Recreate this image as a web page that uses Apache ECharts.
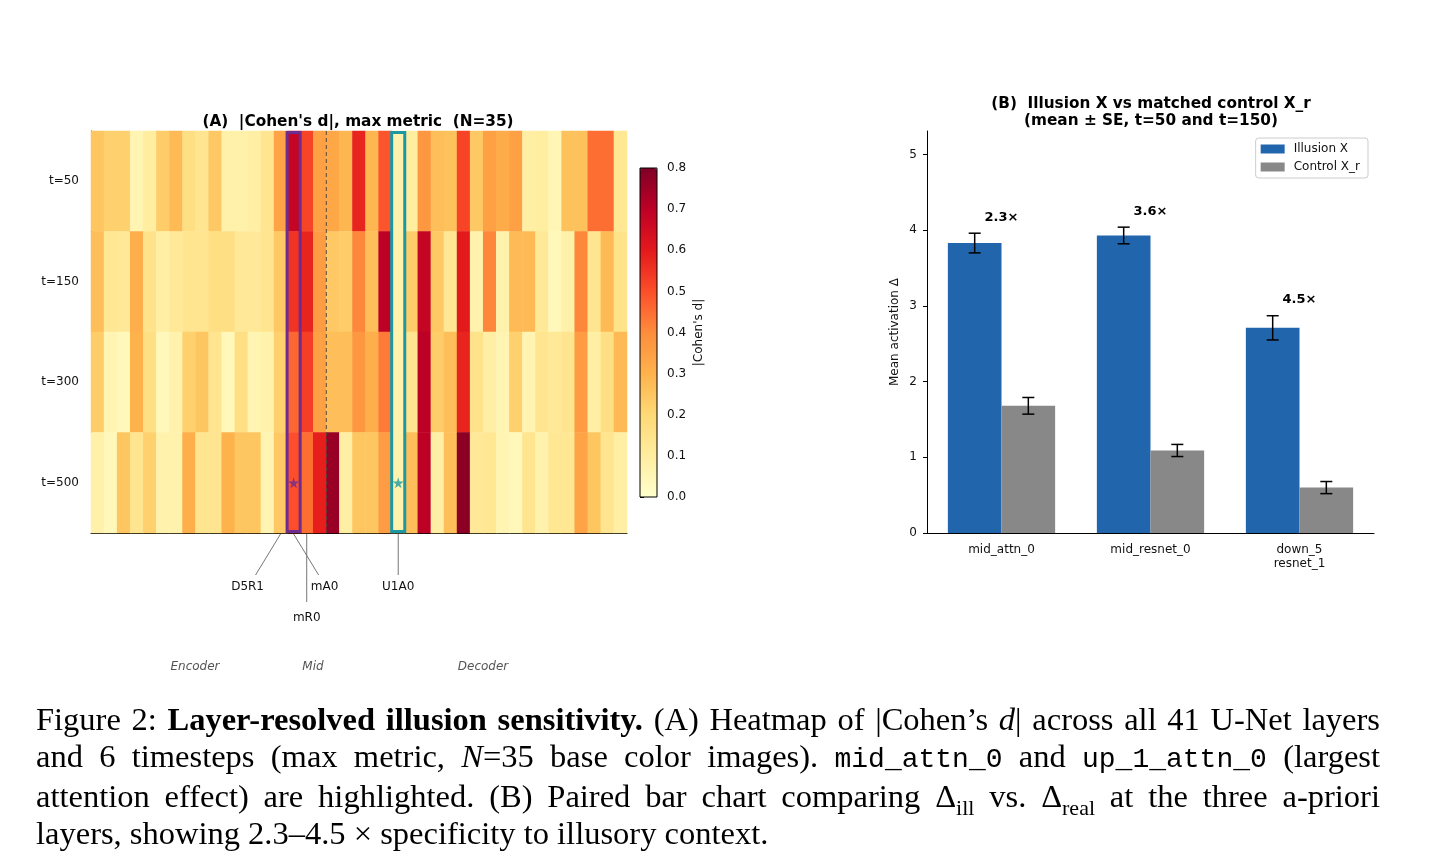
<!DOCTYPE html>
<html>
<head>
<meta charset="utf-8">
<script src="https://cdn.jsdelivr.net/npm/echarts@6/dist/echarts.min.js"></script>
<style>
  body { margin: 0; background: #fff; }
  #chart { position: absolute; left: 0; top: 0; width: 1430px; height: 864px; }
  #caption {
    position: absolute; left: 36px; top: 701px; width: 1344px;
    font-family: "Liberation Serif", "DejaVu Serif", serif;
    font-size: 32.5px; line-height: 37px; color: #000;
  }
  #caption .ln { text-align: justify; text-align-last: justify; white-space: nowrap; }
  #caption .last { text-align: left; white-space: nowrap; }
  #caption code { font-family: "Liberation Mono", "DejaVu Sans Mono", monospace; font-size: 28px; }
  #caption sub { font-size: 22px; line-height: 0; }
</style>
</head>
<body>
<div id="chart"></div>
<div id="caption">
  <div class="ln">Figure 2: <b>Layer-resolved illusion sensitivity.</b> (A) Heatmap of |Cohen’s <i>d</i>| across all 41 U-Net layers</div>
  <div class="ln">and 6 timesteps (max metric, <i>N</i>=35 base color images). <code>mid_attn_0</code> and <code>up_1_attn_0</code> (largest</div>
  <div class="ln">attention effect) are highlighted. (B) Paired bar chart comparing Δ<sub>ill</sub> vs. Δ<sub>real</sub> at the three a-priori</div>
  <div class="last">layers, showing 2.3–4.5 × specificity to illusory context.</div>
</div>
<script>
// ---- data: panel A (|Cohen's d| per layer and timestep) ----
const layerIdx = Array.from({ length: 41 }, (_, i) => String(i));
const timesteps = ['t=50', 't=150', 't=300', 't=500'];

const dT50 = [0.25, 0.22, 0.22, 0.06, 0.10, 0.23, 0.28, 0.17, 0.14, 0.24,
              0.08, 0.08, 0.09, 0.14, 0.34, 0.68, 0.52, 0.35, 0.33, 0.29,
              0.58, 0.29, 0.49, 0.07, 0.10, 0.37, 0.27, 0.26, 0.52, 0.24,
              0.35, 0.32, 0.35, 0.09, 0.10, 0.05, 0.26, 0.26, 0.45, 0.45, 0.13];
const dT150 = [0.27, 0.13, 0.12, 0.31, 0.15, 0.09, 0.12, 0.14, 0.14, 0.17,
               0.17, 0.12, 0.12, 0.14, 0.24, 0.55, 0.58, 0.36, 0.24, 0.23,
               0.41, 0.27, 0.70, 0.07, 0.23, 0.68, 0.24, 0.13, 0.60, 0.07,
               0.41, 0.07, 0.28, 0.28, 0.12, 0.04, 0.08, 0.41, 0.14, 0.28, 0.15];
const dT300 = [0.23, 0.06, 0.04, 0.30, 0.17, 0.04, 0.07, 0.22, 0.25, 0.14,
               0.04, 0.17, 0.06, 0.07, 0.22, 0.46, 0.53, 0.35, 0.27, 0.27,
               0.37, 0.31, 0.43, 0.07, 0.14, 0.70, 0.23, 0.27, 0.58, 0.15,
               0.09, 0.06, 0.22, 0.06, 0.14, 0.12, 0.14, 0.36, 0.09, 0.17, 0.28];
const dT500 = [0.08, 0.04, 0.25, 0.14, 0.22, 0.07, 0.07, 0.31, 0.14, 0.14,
               0.30, 0.25, 0.25, 0.06, 0.24, 0.50, 0.45, 0.59, 0.76, 0.09,
               0.25, 0.25, 0.36, 0.07, 0.27, 0.70, 0.09, 0.27, 0.78, 0.12,
               0.13, 0.06, 0.04, 0.14, 0.07, 0.13, 0.13, 0.34, 0.25, 0.14, 0.09];
const dRows = [dT50, dT150, dT300, dT500];

const highlightCols = [15, 23];           // mid_attn_0, up_1_attn_0
const starCols = [15, 23];
const starRow = 't=500';
const dividerCols = [18];                 // mid | decoder boundary
const annotCols = [14, 15, 16, 23];
const annotLabels = ['D5R1', 'mA0', 'mR0', 'U1A0'];
const cbarTicks = [0, 0.1, 0.2, 0.3, 0.4, 0.5, 0.6, 0.7, 0.8];

// ---- data: panel B ----
const barLayers = ['mid_attn_0', 'mid_resnet_0', 'down_5\nresnet_1'];
const illusionMean = [3.83, 3.93, 2.71];
const illusionSE = [0.13, 0.11, 0.16];
const controlMean = [1.68, 1.09, 0.60];
const controlSE = [0.11, 0.08, 0.08];
const ratioLabels = ['2.3×', '3.6×', '4.5×'];
const barTicks = [0, 1, 2, 3, 4, 5];

// ---- styles ----
const FONT = '"DejaVu Sans", sans-serif';
const YLORRD = ['#ffffcc', '#ffeda0', '#fed976', '#feb24c', '#fd8d3c',
                '#fc4e2a', '#e31a1c', '#bd0026', '#800026'];
const HIGHLIGHT_COLORS = ['#6e2c91', '#1c98a2'];
const BLUE = '#2166ac';
const GRAY = '#888888';
// leader line end / label centre, relative to column centre at the heatmap bottom
const ANNOT_OFFSETS = {
  D5R1: { line: [-25, 42], text: [-33, 54] },
  mA0:  { line: [25, 42],  text: [31, 54] },
  mR0:  { line: [0, 69],   text: [0, 85] },
  U1A0: { line: [0, 42],   text: [0, 54] }
};

const heatData = [];
dRows.forEach((row, r) => row.forEach((v, c) => heatData.push([c, r, v])));

const errData = [];
barLayers.forEach((_, i) => {
  errData.push([i, illusionMean[i], illusionSE[i], -1]);
  errData.push([i, controlMean[i], controlSE[i], 1]);
});
const ratioData = barLayers.map((_, i) => [i, illusionMean[i] + illusionSE[i], ratioLabels[i]]);

function renderHighlight(params, api) {
  const c = api.coord([api.value(0), 0]);
  const bw = api.size([1, 0])[0];
  const cs = params.coordSys;
  return {
    type: 'rect',
    shape: { x: c[0] - bw / 2, y: cs.y + 1.5, width: bw, height: cs.height - 3 },
    style: { fill: 'none', stroke: HIGHLIGHT_COLORS[params.dataIndex], lineWidth: 3 }
  };
}

function renderDivider(params, api) {
  const c = api.coord([api.value(0), 0]);
  const bw = api.size([1, 0])[0];
  const cs = params.coordSys;
  const x = c[0] - bw / 2;
  return {
    type: 'line',
    shape: { x1: x, y1: cs.y, x2: x, y2: cs.y + cs.height },
    style: { stroke: '#5a4a3a', lineWidth: 1, lineDash: [4, 3] }
  };
}

function renderAnnot(params, api) {
  const c = api.coord([api.value(0), 0]);
  const cs = params.coordSys;
  const label = annotLabels[params.dataIndex];
  const off = ANNOT_OFFSETS[label];
  const y0 = cs.y + cs.height;
  return {
    type: 'group',
    children: [
      {
        type: 'line',
        shape: { x1: c[0], y1: y0 + 1, x2: c[0] + off.line[0], y2: y0 + off.line[1] },
        style: { stroke: '#777', lineWidth: 1 }
      },
      {
        type: 'text',
        x: c[0] + off.text[0], y: y0 + off.text[1],
        style: { text: label, fill: '#111', font: '12px ' + FONT, align: 'center', verticalAlign: 'middle' }
      }
    ]
  };
}

function renderErr(params, api) {
  const cat = api.value(0), mean = api.value(1), se = api.value(2), side = api.value(3);
  const bw = api.size([1, 0])[0];
  const x = api.coord([cat, 0])[0] + side * bw * 0.18;
  const top = api.coord([cat, mean + se])[1];
  const bot = api.coord([cat, mean - se])[1];
  const st = { stroke: '#000', lineWidth: 1.5 };
  return {
    type: 'group',
    children: [
      { type: 'line', shape: { x1: x, y1: top, x2: x, y2: bot }, style: st },
      { type: 'line', shape: { x1: x - 6, y1: top, x2: x + 6, y2: top }, style: st },
      { type: 'line', shape: { x1: x - 6, y1: bot, x2: x + 6, y2: bot }, style: st }
    ]
  };
}

function renderRatio(params, api) {
  const p = api.coord([api.value(0), api.value(1)]);
  return {
    type: 'text',
    x: p[0], y: p[1] - 16,
    style: { text: ratioLabels[params.dataIndex], fill: '#000', font: 'bold 13px ' + FONT, align: 'center', verticalAlign: 'middle' }
  };
}

const STAR = 'path://M50,0 L61,35 L98,35 L68,57 L79,91 L50,70 L21,91 L32,57 L2,35 L39,35 Z';

const chart = echarts.init(document.getElementById('chart'));
chart.setOption({
  animation: false,
  backgroundColor: '#fff',
  textStyle: { fontFamily: FONT },
  title: [
    {
      text: "(A)  |Cohen's d|, max metric  (N=35)",
      left: 358, top: 115, textAlign: 'center', padding: 0,
      textStyle: { fontSize: 15.3, fontWeight: 'bold', color: '#000', fontFamily: FONT }
    },
    {
      text: '(B)  Illusion X vs matched control X_r\n(mean ± SE, t=50 and t=150)',
      left: 1151, top: 96, textAlign: 'center', padding: 0,
      textStyle: { fontSize: 15.3, fontWeight: 'bold', color: '#000', lineHeight: 17, fontFamily: FONT }
    }
  ],
  legend: {
    data: ['Illusion X', 'Control X_r'],
    orient: 'vertical',
    right: 62, top: 138,
    itemWidth: 24, itemHeight: 9, itemGap: 6,
    icon: 'rect',
    padding: [5, 8, 5, 5],
    borderColor: '#ccc', borderWidth: 1, borderRadius: 3,
    textStyle: { fontSize: 12, color: '#111', fontFamily: FONT, padding: [0, 0, 0, 4] }
  },
  visualMap: {
    type: 'continuous',
    seriesIndex: 0,
    min: 0, max: 0.8,
    left: 640, top: 168,
    itemWidth: 17, itemHeight: 329,
    padding: 0,
    calculable: false,
    text: null,
    hoverLink: false,
    inRange: { color: YLORRD }
  },
  grid: [
    { left: 91, top: 131, width: 536, height: 402 },
    { left: 927, top: 131, width: 447, height: 402 },
    { left: 640, top: 168, width: 17, height: 329, show: true, borderColor: '#000', borderWidth: 1, backgroundColor: 'transparent', z: 10 }
  ],
  xAxis: [
    {
      gridIndex: 0, type: 'category', data: layerIdx,
      axisLine: { lineStyle: { color: '#000', width: 1 } },
      axisTick: { show: false }, axisLabel: { show: false }, splitLine: { show: false }
    },
    {
      gridIndex: 1, type: 'category', data: barLayers,
      axisLine: { lineStyle: { color: '#000', width: 1 } },
      axisTick: { alignWithLabel: true, length: 4, lineStyle: { color: '#000' } },
      axisLabel: { fontSize: 12, color: '#111', margin: 10, lineHeight: 14 }
    },
    { gridIndex: 2, type: 'value', show: false, min: 0, max: 1 }
  ],
  yAxis: [
    {
      gridIndex: 0, type: 'category', data: timesteps, inverse: true,
      axisLine: { lineStyle: { color: '#000', width: 1 } },
      axisTick: { alignWithLabel: true, length: 5, lineStyle: { color: '#000' } },
      axisLabel: { fontSize: 12, color: '#111', margin: 12 },
      splitLine: { show: false }
    },
    {
      gridIndex: 1, type: 'value', min: 0, max: 5.31,
      name: 'Mean activation Δ', nameLocation: 'middle', nameGap: 26, nameRotate: 90,
      nameTextStyle: { fontSize: 12, color: '#111' },
      axisLine: { show: true, lineStyle: { color: '#000', width: 1 } },
      axisTick: { show: true, length: 4, customValues: barTicks, lineStyle: { color: '#000' } },
      axisLabel: { fontSize: 12, color: '#111', margin: 10, customValues: barTicks },
      splitLine: { show: false }
    },
    {
      gridIndex: 2, type: 'value', position: 'right', min: 0, max: 0.8,
      name: "|Cohen's d|", nameLocation: 'middle', nameGap: 36, nameRotate: 90,
      nameTextStyle: { fontSize: 12, color: '#111' },
      axisLine: { show: false },
      axisTick: { show: true, length: 4, customValues: cbarTicks, lineStyle: { color: '#000' } },
      axisLabel: { fontSize: 12, color: '#111', margin: 10, customValues: cbarTicks, formatter: v => v.toFixed(1) },
      splitLine: { show: false }
    }
  ],
  series: [
    {
      type: 'heatmap', xAxisIndex: 0, yAxisIndex: 0,
      data: heatData, progressive: 0,
      itemStyle: { borderWidth: 0 }, emphasis: { disabled: true }
    },
    {
      type: 'custom', xAxisIndex: 0, yAxisIndex: 0, z: 5,
      data: highlightCols.map(c => [c]), renderItem: renderHighlight
    },
    {
      type: 'custom', xAxisIndex: 0, yAxisIndex: 0, z: 4,
      data: dividerCols.map(c => [c]), renderItem: renderDivider
    },
    {
      type: 'scatter', xAxisIndex: 0, yAxisIndex: 0, z: 6,
      symbol: STAR, symbolSize: 11,
      data: starCols.map((c, i) => ({ value: [c, timesteps.indexOf(starRow)], itemStyle: { color: HIGHLIGHT_COLORS[i] } }))
    },
    {
      type: 'custom', xAxisIndex: 0, yAxisIndex: 0, clip: false,
      data: annotCols.map(c => [c]), renderItem: renderAnnot
    },
    {
      name: 'Illusion X', type: 'bar', xAxisIndex: 1, yAxisIndex: 1,
      data: illusionMean, barWidth: '36%', barGap: '0%',
      itemStyle: { color: BLUE }
    },
    {
      name: 'Control X_r', type: 'bar', xAxisIndex: 1, yAxisIndex: 1,
      data: controlMean, barWidth: '36%', barGap: '0%',
      itemStyle: { color: GRAY }
    },
    {
      type: 'custom', xAxisIndex: 1, yAxisIndex: 1, z: 5,
      data: errData, renderItem: renderErr
    },
    {
      type: 'custom', xAxisIndex: 1, yAxisIndex: 1, z: 5, clip: false,
      data: ratioData, renderItem: renderRatio
    }
  ],
  graphic: [
    { type: 'text', x: 195, y: 667, style: { text: 'Encoder', font: 'italic 12px ' + FONT, fill: '#555', align: 'center', verticalAlign: 'middle' } },
    { type: 'text', x: 313, y: 667, style: { text: 'Mid', font: 'italic 12px ' + FONT, fill: '#555', align: 'center', verticalAlign: 'middle' } },
    { type: 'text', x: 483, y: 667, style: { text: 'Decoder', font: 'italic 12px ' + FONT, fill: '#555', align: 'center', verticalAlign: 'middle' } }
  ]
});
</script>
</body>
</html>
